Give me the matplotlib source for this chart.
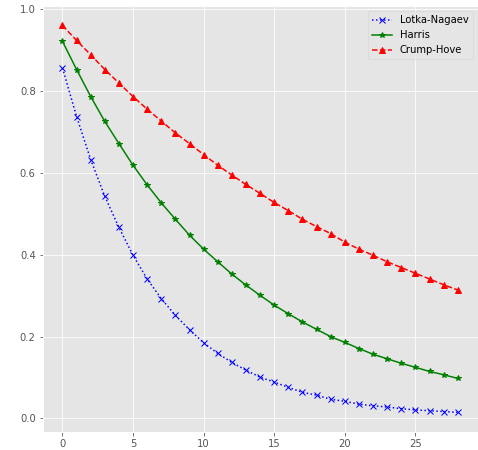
import numpy as np
import matplotlib
matplotlib.use("Agg")
import matplotlib.pyplot as plt

plt.style.use("ggplot")

steps = np.arange(29)

lotka_nagaev = [
    0.857, 0.738, 0.633, 0.543, 0.467, 0.399, 0.341, 0.293, 0.252, 0.217,
    0.185, 0.159, 0.137, 0.118, 0.101, 0.089, 0.076, 0.064, 0.057, 0.047,
    0.042, 0.035, 0.031, 0.028, 0.024, 0.021, 0.019, 0.017, 0.015,
]

harris = [
    0.922, 0.853, 0.787, 0.726, 0.672, 0.619, 0.571, 0.527, 0.487, 0.448,
    0.414, 0.383, 0.353, 0.326, 0.301, 0.277, 0.256, 0.236, 0.218, 0.200,
    0.186, 0.171, 0.157, 0.146, 0.135, 0.125, 0.115, 0.107, 0.098,
]

crump_hove = [
    0.961, 0.924, 0.889, 0.853, 0.820, 0.787, 0.756, 0.727, 0.698, 0.672,
    0.645, 0.619, 0.595, 0.572, 0.550, 0.528, 0.508, 0.487, 0.469, 0.452,
    0.431, 0.414, 0.399, 0.383, 0.369, 0.355, 0.341, 0.327, 0.314,
]

# reference looks like a 72 dpi notebook render
dpi = 72
fig = plt.figure(figsize=(478 / dpi, 450 / dpi), dpi=dpi)
ax = fig.add_axes([42.7 / 478, 1 - 431.7 / 450, (477.5 - 42.7) / 478, (431.7 - 6) / 450])

ax.plot(steps, lotka_nagaev, ":", color="blue", marker="x", label="Lotka-Nagaev")
ax.plot(steps, harris, "-", color="green", marker="*", label="Harris")
ax.plot(steps, crump_hove, "--", color="red", marker="^", label="Crump-Hove")

ax.legend(loc="upper right")

fig.savefig("out.png", dpi=dpi)
